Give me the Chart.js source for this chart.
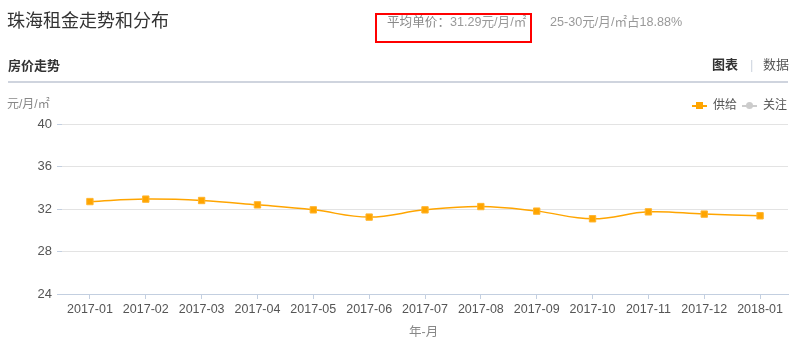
<!DOCTYPE html>
<html><head><meta charset="utf-8">
<script src="https://cdn.jsdelivr.net/npm/chart.js@4/dist/chart.umd.min.js"></script>
<style>
html,body{margin:0;padding:0;background:#fff;}
body{width:808px;height:356px;position:relative;overflow:hidden;font-family:"Liberation Sans","Noto Sans CJK SC",sans-serif;}
.t{position:absolute;white-space:nowrap;line-height:1;}
#cv{position:absolute;left:0;top:0;}
</style></head>
<body>
<canvas id="cv" width="808" height="356"></canvas>
<div class="t" style="left:7px;top:12px;font-size:18px;color:#333;">珠海租金走势和分布</div>
<div style="position:absolute;left:375px;top:13px;width:153px;height:26px;border:2px solid #f00;"></div>
<div class="t" style="left:387px;top:16px;font-size:12.6px;color:#888;">平均单价：<span style="color:#999">31.29元/月/㎡</span></div>
<div class="t" style="left:550px;top:16px;font-size:12.6px;color:#999;">25-30元/月/㎡占18.88%</div>
<div class="t" style="left:8px;top:59px;font-size:13px;font-weight:bold;color:#333;">房价走势</div>
<div class="t" style="left:712px;top:58px;font-size:13px;font-weight:bold;color:#333;">图表</div>
<div class="t" style="left:750px;top:58px;font-size:13px;color:#cfd6e0;">|</div>
<div class="t" style="left:763px;top:58px;font-size:13px;color:#555;">数据</div>
<div style="position:absolute;left:8px;top:81px;width:780px;height:2px;background:#cfd4de;"></div>
<div class="t" style="left:7px;top:98px;font-size:12px;color:#888;">元/月/㎡</div>
<div style="position:absolute;left:692px;top:105px;width:15px;height:2px;background:#ffa500;"></div>
<div style="position:absolute;left:696px;top:102px;width:7px;height:7px;background:#ffa500;"></div>
<div class="t" style="left:713px;top:99px;font-size:12px;color:#555;">供给</div>
<div style="position:absolute;left:742px;top:105px;width:15px;height:2px;background:#ccc;"></div>
<div style="position:absolute;left:746px;top:102px;width:7px;height:7px;border-radius:50%;background:#ccc;"></div>
<div class="t" style="left:763px;top:99px;font-size:12px;color:#555;">关注</div>
<div class="t" style="left:409px;top:326px;font-size:12.5px;color:#888;">年-月</div>
<script>
const categories = ["2017-01","2017-02","2017-03","2017-04","2017-05","2017-06","2017-07","2017-08","2017-09","2017-10","2017-11","2017-12","2018-01"];
const supplyValues = [32.70,32.93,32.80,32.39,31.92,31.24,31.92,32.23,31.80,31.08,31.73,31.52,31.36];
const yTicks = [24,28,32,36,40];

new Chart(document.getElementById('cv'), {
  type: 'line',
  data: {
    labels: categories,
    datasets: [{
      label: '供给',
      data: supplyValues,
      borderColor: '#ffa500',
      backgroundColor: '#ffa500',
      borderWidth: 1.5,
      tension: 0.4,
      pointStyle: 'rect',
      pointRadius: 4.5,
      pointBorderWidth: 1,
      pointBorderColor: '#ffb52e',
      pointBackgroundColor: '#ffa500',
      fill: false
    }]
  },
  options: {
    responsive: false,
    animation: false,
    events: [],
    layout: { padding: { left: 0, right: 20, top: 124, bottom: 0 } },
    plugins: { legend: { display: false }, tooltip: { enabled: false } },
    scales: {
      x: {
        offset: true,
        afterFit: s => { s.height = 62; },
        grid: { offset: false, drawOnChartArea: false, drawTicks: true, tickLength: 5, tickColor: '#c3cfe0' },
        border: { display: true, color: '#c3cfe0', width: 1 },
        ticks: { color: '#555', font: { size: 12.5, family: '"Liberation Sans", sans-serif' }, padding: 3, maxRotation: 0, autoSkip: false }
      },
      y: {
        min: 24, max: 40,
        afterFit: s => { s.width = 62; },
        afterBuildTicks: s => { s.ticks = yTicks.map(v => ({ value: v })); },
        grid: { color: '#e3e3e3', tickLength: 5, tickColor: '#c3cfe0', lineWidth: 1 },
        border: { display: false },
        ticks: { color: '#555', font: { size: 13, family: '"Liberation Sans", sans-serif' }, padding: 5 }
      }
    }
  }
});
</script>
</body></html>
